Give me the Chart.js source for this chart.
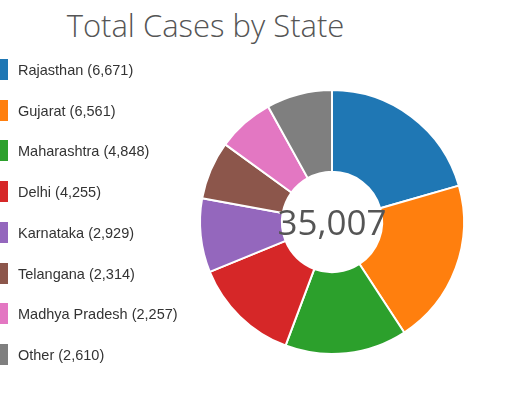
<!DOCTYPE html>
<html><head><meta charset="utf-8">
<script src="https://cdn.jsdelivr.net/npm/chart.js"></script>
<style>
body{margin:0;background:#fff;font-family:"Liberation Sans",Arial,sans-serif;}
#wrap{position:relative;width:511px;height:400px;overflow:hidden}
#title{position:absolute;top:4px;left:0;width:411px;text-align:center;font-size:31px;font-weight:300;color:#555;font-family:"Open Sans","Liberation Sans",sans-serif;}
.li{position:absolute;left:0;height:22px;font-size:14.5px;color:#333;line-height:22px}
.li span{position:absolute;left:-2px;top:0;width:10px;height:21px}
.li b{font-weight:normal;position:absolute;left:18px;white-space:nowrap}
#center{position:absolute;left:232px;width:200px;top:198px;text-align:center;font-size:35px;color:#555;font-family:"Open Sans","Liberation Sans",sans-serif;}
canvas{position:absolute;left:0;top:0}
</style></head><body>
<div id="wrap"><div id="title">Total Cases by State</div>
<canvas id="c" width="511" height="400"></canvas>
<div id="center"></div></div>
<script>
const states=["Rajasthan","Gujarat","Maharashtra","Delhi","Karnataka","Telangana","Madhya Pradesh","Other"];
const cases=[6671,6561,4848,4255,2929,2314,2257,2610];
const colors=["#1f77b4","#ff7f0e","#2ca02c","#d62728","#9467bd","#8c564b","#e377c2","#7f7f7f"];
const totalLabel="35,007";
const wrap=document.getElementById('wrap');
states.forEach((s,i)=>{const d=document.createElement('div');d.className='li';d.style.top=(59+i*40.7)+'px';
d.innerHTML='<span style="background:'+colors[i]+'"></span><b>'+s+' ('+cases[i].toLocaleString('en-US')+')</b>';wrap.appendChild(d);});
document.getElementById('center').textContent=totalLabel;
new Chart(document.getElementById('c'),{type:'doughnut',
data:{labels:states,datasets:[{data:cases,backgroundColor:colors,borderColor:'#fff',borderWidth:2}]},
options:{responsive:false,animation:false,cutout:'38%',layout:{padding:{left:199,right:46,top:89,bottom:45}},
plugins:{legend:{display:false},tooltip:{enabled:false}}}});
</script></body></html>
